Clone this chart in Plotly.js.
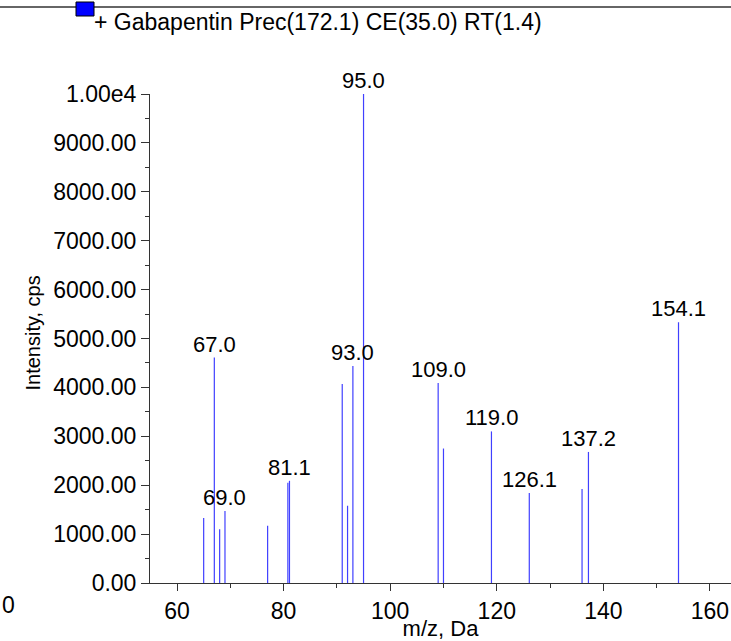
<!DOCTYPE html>
<html>
<head>
<meta charset="utf-8">
<script src="https://cdn.plot.ly/plotly-3.0.1.min.js"></script>
<style>
html,body{margin:0;padding:0;background:#fff;}
#chart{width:731px;height:641px;}
</style>
</head>
<body>
<div id="chart"></div>
<script>
// Fragment peaks (m/z, intensity in cps)
const mz = [65.0, 67.0, 68.0, 69.0, 77.0, 80.8, 81.1, 91.0, 92.0, 93.0, 95.0, 109.0, 110.0, 119.0, 126.1, 136.0, 137.2, 154.1];
const intensity = [1330, 4610, 1100, 1470, 1170, 2050, 2090, 4070, 1580, 4440, 10000, 4090, 2750, 3100, 1840, 1920, 2680, 5330];
// Labelled peaks
const labelMz = [67.0, 69.0, 81.1, 93.0, 95.0, 109.0, 119.0, 126.1, 137.2, 154.1];
const labelText = ["67.0", "69.0", "81.1", "93.0", "95.0", "109.0", "119.0", "126.1", "137.2", "154.1"];
const seriesName = "+ Gabapentin Prec(172.1) CE(35.0) RT(1.4)";
const xTicks = [60, 80, 100, 120, 140, 160];
const yTicks = [0, 1000, 2000, 3000, 4000, 5000, 6000, 7000, 8000, 9000, 10000];
const yTickText = ["0.00", "1000.00", "2000.00", "3000.00", "4000.00", "5000.00", "6000.00", "7000.00", "8000.00", "9000.00", "1.00e4"];

const FONT = "Liberation Sans, Arial, sans-serif";
const xs = [], ys = [];
mz.forEach((m, i) => { xs.push(m, m, null); ys.push(0, intensity[i], null); });

const intensityAt = m => intensity[mz.indexOf(m)];
const annotations = labelMz.map((m, i) => ({
  x: m, y: intensityAt(m), xref: 'x', yref: 'y', text: labelText[i],
  showarrow: false, yanchor: 'bottom', xanchor: 'center', yshift: -1,
  font: {family: FONT, size: 22, color: '#000'}
}));
annotations.push({
  xref: 'paper', yref: 'paper', x: 0, y: 1, xshift: -58, yshift: 72,
  xanchor: 'left', yanchor: 'middle', showarrow: false, text: seriesName,
  font: {family: FONT, size: 23, color: '#000'}
});
annotations.push({
  xref: 'paper', yref: 'paper', x: 0, y: 0, xshift: -150, yshift: -22,
  xanchor: 'left', yanchor: 'middle', showarrow: false, text: "0",
  font: {family: FONT, size: 23, color: '#000'}
});
annotations.push({
  xref: 'paper', yref: 'paper', x: 0, y: 0.5, xshift: -118, yshift: 5,
  xanchor: 'center', yanchor: 'middle', showarrow: false, textangle: -90,
  text: 'Intensity, cps', font: {family: FONT, size: 20, color: '#000'}
});

const trace = {
  type: 'scatter', mode: 'lines', x: xs, y: ys,
  line: {color: '#4040ff', width: 1.2}, hoverinfo: 'skip', showlegend: false
};

const layout = {
  width: 731, height: 641,
  margin: {l: 150, r: 0, t: 94, b: 58},
  paper_bgcolor: '#fff', plot_bgcolor: '#fff',
  showlegend: false,
  font: {family: FONT, size: 23, color: '#000'},
  xaxis: {
    range: [54.93, 163.95], tickmode: 'array', tickvals: xTicks,
    ticks: 'outside', ticklen: 7, tickcolor: '#333', tickwidth: 1,
    showline: true, linecolor: '#333', linewidth: 1, showgrid: false, zeroline: false,
    tickfont: {family: FONT, size: 23, color: '#000'},
    minor: {dtick: 10, ticks: 'outside', ticklen: 4, tickcolor: '#333', showgrid: false},
    title: {text: 'm/z, Da', font: {family: FONT, size: 22, color: '#000'}, standoff: 0}
  },
  yaxis: {
    range: [0, 10000], tickmode: 'array', tickvals: yTicks, ticktext: yTickText,
    ticks: 'outside', ticklen: 8, tickcolor: '#333', tickwidth: 1,
    showline: true, linecolor: '#333', linewidth: 1, showgrid: false, zeroline: false,
    tickfont: {family: FONT, size: 23, color: '#000'},
    minor: {dtick: 500, ticks: 'outside', ticklen: 4, tickcolor: '#333', showgrid: false}
  },
  annotations: annotations,
  shapes: [
    {type: 'line', xref: 'paper', yref: 'paper', x0: -1, x1: 1,
     ysizemode: 'pixel', yanchor: 1, y0: 87, y1: 87, line: {color: '#333', width: 1.5}},
    {type: 'rect', xref: 'paper', yref: 'paper', xsizemode: 'pixel', ysizemode: 'pixel',
     xanchor: 0, yanchor: 1, x0: -74, x1: -56, y0: 78, y1: 92,
     fillcolor: '#0000ff', line: {color: '#000', width: 1}},
    {type: 'path', xref: 'x', yref: 'y', xsizemode: 'pixel', ysizemode: 'pixel',
     xanchor: 54.93, yanchor: 0, path: 'M -9,-9 L 0,0 L -9,9 Z',
     fillcolor: '#0000ff', line: {color: '#0000ff', width: 0}}
  ]
};

Plotly.newPlot('chart', [trace], layout, {displayModeBar: false, staticPlot: true});
</script>
</body>
</html>
